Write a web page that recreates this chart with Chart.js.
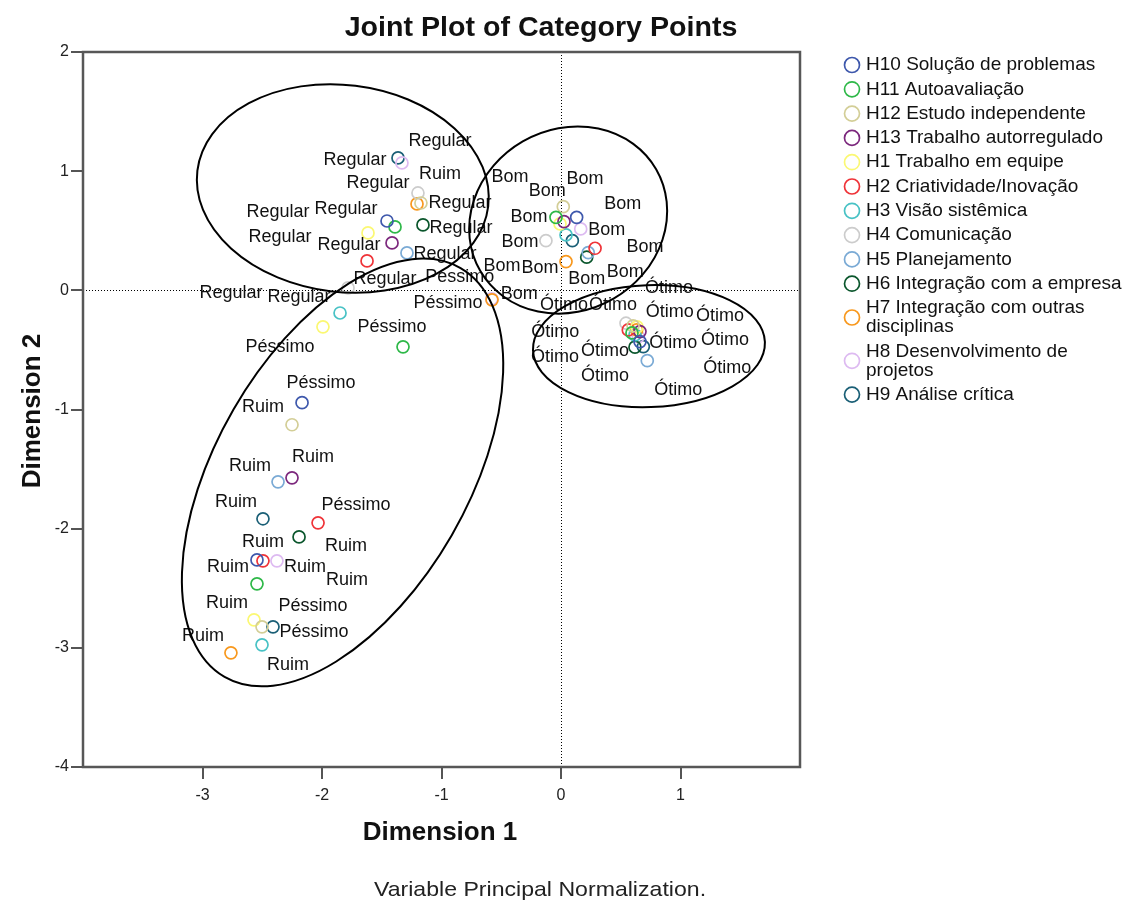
<!DOCTYPE html>
<html>
<head>
<meta charset="utf-8">
<title>Joint Plot of Category Points</title>
<script src="https://cdn.jsdelivr.net/npm/chart.js@4.4.1/dist/chart.umd.min.js"></script>
<style>
  html, body { margin: 0; padding: 0; background: #fff; }
  #wrap { width: 1128px; height: 902px; }
</style>
</head>
<body>
<div id="wrap"><canvas id="joint" width="1128" height="902"></canvas></div>
<script>
// Variables (legend order) and the answer categories of each one
const variables = [
    'H10 Solução de problemas',
    'H11 Autoavaliação',
    'H12 Estudo independente',
    'H13 Trabalho autorregulado',
    'H1 Trabalho em equipe',
    'H2 Criatividade/Inovação',
    'H3 Visão sistêmica',
    'H4 Comunicação',
    'H5 Planejamento',
    'H6 Integração com a empresa',
    'H7 Integração com outras disciplinas',
    'H8 Desenvolvimento de projetos',
    'H9 Análise crítica'
];
const categories = ['Ótimo', 'Bom', 'Regular', 'Ruim', 'Péssimo'];

const xTicks = [-3, -2, -1, 0, 1];
const yTicks = [2, 1, 0, -1, -2, -3, -4];

// Category points, one value per variable (same order as above); null = category not present
const otimoDim1 = [0.661, 0.594, 0.603, 0.661, 0.636, 0.563, 0.619, 0.544, 0.722, 0.619, 0.633, 0.647, 0.689];
const otimoDim2 = [-0.430, -0.357, -0.299, -0.346, -0.307, -0.332, -0.374, -0.276, -0.590, -0.477, -0.332, -0.388, -0.472];

const bomDim1 = [0.131, -0.042, 0.019, 0.025, -0.008, 0.285, 0.042, -0.126, 0.228, 0.215, 0.042, 0.165, 0.095];
const bomDim2 = [0.613, 0.613, 0.702, 0.576, 0.557, 0.353, 0.465, 0.417, 0.316, 0.278, 0.241, 0.515, 0.417];

const regularDim1 = [-1.456, -1.389, -1.172, -1.414, -1.615, -1.623, -1.849, -1.782, -1.289, -1.155, -1.205, -1.331, -1.364];
const regularDim2 = [0.582, 0.532, 0.733, 0.398, 0.482, 0.247, -0.190, 0.020, 0.314, 0.549, 0.725, 1.069, 1.111];

const ruimDim1 = [-2.544, -2.544, -2.251, -2.251, -2.569, -2.494, -2.502, -1.197, -2.368, -2.192, -2.762, -2.377, -2.494];
const ruimDim2 = [-2.262, -2.463, -1.128, -1.573, -2.765, -2.270, -2.975, 0.817, -1.607, -2.069, -3.042, -2.270, -1.917];

const pessimoDim1 = [-2.167, -1.322, -2.502, null, -1.992, -2.033, null, null, null, null, -0.577, -0.580, -2.410];
const pessimoDim2 = [-0.943, -0.474, -2.824, null, -0.306, -1.951, null, null, null, null, -0.080, -0.072, -2.824];

// SPSS default palette, one colour per variable
const palette = ['#3E58AC', '#2EB848', '#D3CE97', '#7C287D', '#FBF873', '#EF3338', '#48C2C5',
                 '#CCCCCC', '#7AAAD5', '#0A562C', '#F8981D', '#DDBAF1', '#1A5F76'];

// where each category label sits relative to its point (px)
const labelOffsets = [
    [[85, -2], [-27, 18], [-20, -21], [80, -16], [32, -39], [-73, 2], [-80, 22], [-62, -18], [31, 29], [-30, 29], [33, -18], [89, 31], [30, -4]],
    [[46, -13], [-27, 0], [-16, -16], [-54, -45], [25, -45], [50, -1], [-64, 31], [-26, 1], [37, 19], [0, 22], [-26, 6], [26, 1], [-53, 53]],
    [[-41, -12], [-117, -15], [39, 0], [-43, 2], [-88, 4], [-136, 32], [-41, -16], [37, -9], [38, 1], [38, 3], [-39, -21], [38, -22], [-43, 2]],
    [[6, -18], [90, -4], [-29, -18], [21, -21], [-27, -17], [-35, 6], [26, 20], [22, -19], [-28, -16], [47, 9], [-28, -17], [28, 6], [-27, -17]],
    [[19, -20], [-11, -20], [51, -21], null, [-43, 20], [38, -18], null, null, null, null, [-44, 3], [-32, -22], [41, 5]]
];

// group outlines drawn over the plot (data units, rotation in degrees)
const groupOutlines = [
    { cx: -1.826, cy: 0.855, rx: 1.226, ry: 0.866, rot: 7 },
    { cx: 0.060, cy: 0.590, rx: 0.85, ry: 0.76, rot: -30 },
    { cx: 0.736, cy: -0.468, rx: 0.971, ry: 0.51, rot: -2 },
    { cx: -1.828, cy: -1.528, rx: 1.975, ry: 1.054, rot: -60 }
];

const FONT = '"Liberation Sans", Arial, sans-serif';

function drawText(ctx, text, x, y, font, align, sx, color) {
    ctx.save();
    ctx.font = font;
    ctx.fillStyle = color || '#000';
    ctx.textBaseline = 'middle';
    ctx.textAlign = align;
    ctx.translate(x, y);
    ctx.scale(sx, 1);
    ctx.fillText(text, 0, 0);
    ctx.restore();
}

function wrapText(ctx, text, maxWidth) {
    const words = text.split(' ');
    const lines = [];
    let line = '';
    words.forEach(w => {
        const test = line ? line + ' ' + w : w;
        if (line && ctx.measureText(test).width > maxWidth) {
            lines.push(line);
            line = w;
        } else {
            line = test;
        }
    });
    if (line) lines.push(line);
    return lines;
}

const dim1ByCat = [otimoDim1, bomDim1, regularDim1, ruimDim1, pessimoDim1];
const dim2ByCat = [otimoDim2, bomDim2, regularDim2, ruimDim2, pessimoDim2];

const datasets = variables.map((name, v) => {
    const pts = [];
    categories.forEach((cat, c) => {
        const x = dim1ByCat[c][v];
        const y = dim2ByCat[c][v];
        if (x !== null && y !== null) pts.push({ x: x, y: y, cat: c });
    });
    return {
        label: name,
        data: pts,
        borderColor: palette[v],
        backgroundColor: 'rgba(0,0,0,0)',
        pointRadius: 6,
        pointHoverRadius: 6,
        borderWidth: 1.7,
        pointStyle: 'circle'
    };
});

// dotted zero lines under the points
const zeroLines = {
    id: 'zeroLines',
    beforeDatasetsDraw(chart) {
        const { ctx, chartArea: a, scales } = chart;
        const x0 = Math.round(scales.x.getPixelForValue(0)) + 0.5;
        const y0 = Math.round(scales.y.getPixelForValue(0)) + 0.5;
        ctx.save();
        ctx.strokeStyle = '#000';
        ctx.lineWidth = 1;
        ctx.setLineDash([1, 2]);
        ctx.beginPath();
        ctx.moveTo(x0, a.top);
        ctx.lineTo(x0, a.bottom);
        ctx.moveTo(a.left, y0);
        ctx.lineTo(a.right, y0);
        ctx.stroke();
        ctx.restore();
    }
};

// category names next to each point, then the group ellipses
const pointLabels = {
    id: 'pointLabels',
    afterDatasetsDraw(chart) {
        const { ctx, scales } = chart;
        chart.data.datasets.forEach((ds, v) => {
            const meta = chart.getDatasetMeta(v);
            meta.data.forEach((el, i) => {
                const c = ds.data[i].cat;
                const off = labelOffsets[c][v] || [0, -16];
                drawText(ctx, categories[c], el.x + off[0], el.y + off[1], '18px ' + FONT, 'center', 1, '#111');
            });
        });

        const unit = scales.x.getPixelForValue(1) - scales.x.getPixelForValue(0);
        ctx.save();
        ctx.strokeStyle = '#000';
        ctx.lineWidth = 2;
        groupOutlines.forEach(e => {
            ctx.beginPath();
            ctx.ellipse(scales.x.getPixelForValue(e.cx), scales.y.getPixelForValue(e.cy),
                e.rx * unit, e.ry * unit, e.rot * Math.PI / 180, 0, Math.PI * 2);
            ctx.stroke();
        });
        ctx.restore();
    }
};

// frame, titles, footnote and the wrapped legend
const decorations = {
    id: 'decorations',
    afterDraw(chart) {
        const { ctx, chartArea: a } = chart;

        ctx.save();
        ctx.strokeStyle = '#575757';
        ctx.lineWidth = 2.5;
        ctx.strokeRect(a.left, a.top, a.right - a.left, a.bottom - a.top);
        ctx.restore();

        drawText(ctx, 'Joint Plot of Category Points', 541, 29, 'bold 27px ' + FONT, 'center', 1.06, '#111');
        drawText(ctx, 'Dimension 1', 440, 833, 'bold 25px ' + FONT, 'center', 1.04, '#111');
        drawText(ctx, 'Variable Principal Normalization.', 540, 890, '21px ' + FONT, 'center', 1.1, '#222');

        ctx.save();
        ctx.translate(33, 411);
        ctx.rotate(-Math.PI / 2);
        drawText(ctx, 'Dimension 2', 0, 0, 'bold 25px ' + FONT, 'center', 1.04, '#111');
        ctx.restore();

        // legend
        const legendFont = '19px ' + FONT;
        ctx.save();
        ctx.font = legendFont;
        let y = 65;
        variables.forEach((name, v) => {
            const lines = wrapText(ctx, name, 258);
            const lineH = 19;
            const midY = y + (lines.length - 1) * lineH / 2;
            ctx.beginPath();
            ctx.strokeStyle = palette[v];
            ctx.lineWidth = 1.7;
            ctx.arc(852, midY, 7.5, 0, Math.PI * 2);
            ctx.stroke();
            lines.forEach((ln, k) => {
                drawText(ctx, ln, 866, y + k * lineH, legendFont, 'left', 1, '#111');
            });
            y += (lines.length - 1) * lineH + 24.3;
        });
        ctx.restore();
    }
};

new Chart(document.getElementById('joint'), {
    type: 'scatter',
    data: { datasets: datasets },
    options: {
        responsive: false,
        animation: false,
        layout: { padding: { top: 52, right: 328, bottom: 0, left: 0 } },
        plugins: {
            legend: { display: false },
            title: { display: false },
            tooltip: { enabled: false }
        },
        scales: {
            x: {
                type: 'linear',
                min: -4,
                max: 2,
                afterBuildTicks: axis => { axis.ticks = xTicks.map(v => ({ value: v })); },
                afterFit: axis => { axis.height = 135; },
                border: { display: false },
                grid: { drawOnChartArea: false, drawTicks: true, tickLength: 12, color: '#555', lineWidth: 2 },
                ticks: { color: '#222', padding: 7, font: { family: FONT, size: 16 } }
            },
            y: {
                type: 'linear',
                min: -4,
                max: 2,
                afterBuildTicks: axis => { axis.ticks = yTicks.map(v => ({ value: v })); },
                afterFit: axis => { axis.width = 83; },
                border: { display: false },
                grid: { drawOnChartArea: false, drawTicks: true, tickLength: 12, color: '#555', lineWidth: 2 },
                ticks: { color: '#222', padding: 2, font: { family: FONT, size: 16 } }
            }
        }
    },
    plugins: [zeroLines, pointLabels, decorations]
});
</script>
</body>
</html>
